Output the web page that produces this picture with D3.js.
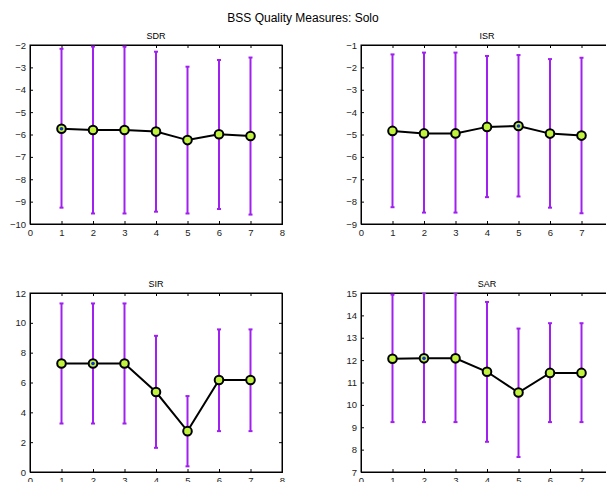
<!DOCTYPE html>
<html>
<head>
<meta charset="utf-8">
<script src="https://cdn.jsdelivr.net/npm/d3@7"></script>
<style>
  body { margin: 0; background: #fff; }
  svg { display: block; font-family: "Liberation Sans", Arial, sans-serif; }
</style>
</head>
<body>
<svg id="chart" width="606" height="482"></svg>
<script>
// valeurs
var methods = [1, 2, 3, 4, 5, 6, 7];

var sdrMean = [-5.74, -5.80, -5.80, -5.87, -6.25, -5.99, -6.07];
var sdrHigh = [-2.17, -2.07, -2.07, -2.30, -2.97, -2.67, -2.56];
var sdrLow  = [-9.27, -9.53, -9.53, -9.45, -9.53, -9.33, -9.58];

var isrMean = [-4.84, -4.95, -4.95, -4.66, -4.62, -4.96, -5.05];
var isrHigh = [-1.42, -1.34, -1.34, -1.49, -1.45, -1.63, -1.57];
var isrLow  = [-8.25, -8.49, -8.49, -7.80, -7.77, -8.27, -8.52];

var sirMean = [7.27, 7.27, 7.27, 5.36, 2.74, 6.17, 6.17];
var sirHigh = [11.30, 11.30, 11.30, 9.13, 5.09, 9.56, 9.56];
var sirLow  = [3.25, 3.25, 3.25, 1.62, 0.38, 2.74, 2.74];

var sarMean = [12.06, 12.08, 12.08, 11.48, 10.55, 11.43, 11.43];
var sarHigh = [14.93, 14.99, 14.99, 14.60, 13.41, 13.65, 13.65];
var sarLow  = [9.23, 9.23, 9.23, 8.35, 7.67, 9.23, 9.23];

var xTicks = [0, 1, 2, 3, 4, 5, 6, 7, 8];

var panels = [
  { name: "SDR", mean: sdrMean, high: sdrHigh, low: sdrLow, ydom: [-10, -2], best: 0, left: 30, top: 45 },
  { name: "ISR", mean: isrMean, high: isrHigh, low: isrLow, ydom: [-9, -1], best: 4, left: 361, top: 45 },
  { name: "SIR", mean: sirMean, high: sirHigh, low: sirLow, ydom: [0, 12], best: 1, left: 30, top: 293 },
  { name: "SAR", mean: sarMean, high: sarHigh, low: sarLow, ydom: [7, 15], best: 1, left: 361, top: 293 }
];

var W = 252, H = 179;
var purple = "#a020f0";
var fill = "#c1f23e";

var svg = d3.select("#chart");

svg.append("text")
  .attr("x", 303).attr("y", 22)
  .attr("text-anchor", "middle")
  .attr("font-size", 12)
  .text("BSS Quality Measures: Solo");

panels.forEach(function(p, k) {
  var g = svg.append("g").attr("transform", "translate(" + p.left + "," + p.top + ")");

  var x = d3.scaleLinear().domain([0, 8]).range([0, W]);
  var y = d3.scaleLinear().domain(p.ydom).range([H, 0]);
  var yTicks = d3.range(p.ydom[0], p.ydom[1] + 0.001, p.ydom[1] - p.ydom[0] > 10 ? 2 : 1);

  g.append("clipPath").attr("id", "clip" + k)
    .append("rect").attr("width", W).attr("height", H);

  g.append("rect")
    .attr("width", W).attr("height", H)
    .attr("fill", "none").attr("stroke", "#000").attr("stroke-width", 1);

  var xAxis = g.append("g").attr("transform", "translate(0," + H + ")")
    .call(d3.axisBottom(x).tickValues(xTicks).tickSize(-3).tickPadding(5).tickFormat(d3.format("d")));
  var xTop = g.append("g")
    .call(d3.axisTop(x).tickValues(xTicks).tickSize(-3).tickFormat(""));
  var yAxis = g.append("g")
    .call(d3.axisLeft(y).tickValues(yTicks).tickSize(-3).tickPadding(4).tickFormat(d3.format("d")));
  var yRight = g.append("g").attr("transform", "translate(" + W + ",0)")
    .call(d3.axisRight(y).tickValues(yTicks).tickSize(-3).tickFormat(""));

  [xAxis, xTop, yAxis, yRight].forEach(function(a) {
    a.select(".domain").attr("stroke", "#000");
    a.selectAll("text").attr("font-size", 9.5).attr("fill", "#222")
      .attr("font-family", "'Liberation Sans', Arial, sans-serif");
  });

  g.append("text")
    .attr("x", W / 2).attr("y", -6)
    .attr("text-anchor", "middle")
    .attr("font-size", 9)
    .text(p.name);

  var plot = g.append("g").attr("clip-path", "url(#clip" + k + ")");

  var rows = methods.map(function(m, i) {
    return { m: m, mean: p.mean[i], high: p.high[i], low: p.low[i], best: i === p.best };
  });

  // barres d'erreur
  var eb = plot.selectAll(".eb").data(rows).enter().append("g")
    .attr("stroke", purple).attr("stroke-width", 2).attr("fill", "none");
  eb.append("line")
    .attr("x1", function(d) { return x(d.m); }).attr("x2", function(d) { return x(d.m); })
    .attr("y1", function(d) { return y(d.low); }).attr("y2", function(d) { return y(d.high); });
  eb.append("line")
    .attr("x1", function(d) { return x(d.m) - 2; }).attr("x2", function(d) { return x(d.m) + 2; })
    .attr("y1", function(d) { return y(d.low); }).attr("y2", function(d) { return y(d.low); });
  eb.append("line")
    .attr("x1", function(d) { return x(d.m) - 2; }).attr("x2", function(d) { return x(d.m) + 2; })
    .attr("y1", function(d) { return y(d.high); }).attr("y2", function(d) { return y(d.high); });

  var line = d3.line().x(function(d) { return x(d.m); }).y(function(d) { return y(d.mean); });
  plot.append("path").datum(rows)
    .attr("d", line)
    .attr("fill", "none").attr("stroke", "#000").attr("stroke-width", 2);

  g.selectAll(".pt").data(rows).enter().append("circle")
    .attr("cx", function(d) { return x(d.m); })
    .attr("cy", function(d) { return y(d.mean); })
    .attr("r", 4.3)
    .attr("fill", fill).attr("stroke", "#000").attr("stroke-width", 2);

  g.selectAll(".bst").data(rows.filter(function(d) { return d.best; })).enter().append("circle")
    .attr("cx", function(d) { return x(d.m); })
    .attr("cy", function(d) { return y(d.mean); })
    .attr("r", 1.8)
    .attr("fill", "#1030e0");
});
</script>
</body>
</html>
